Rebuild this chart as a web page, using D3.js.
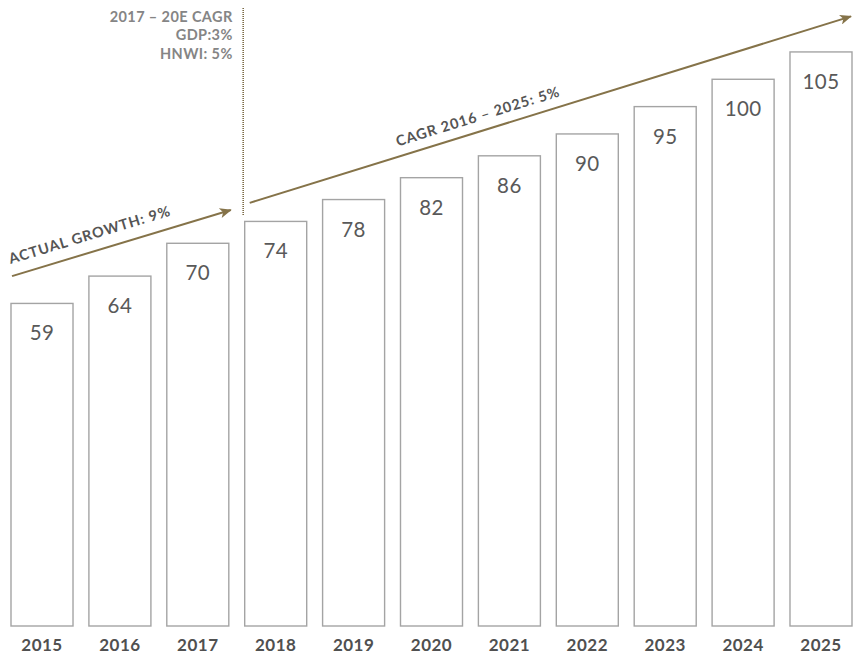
<!DOCTYPE html>
<html>
<head>
<meta charset="utf-8">
<script src="https://cdn.jsdelivr.net/npm/d3@7/dist/d3.min.js"></script>
<style>
  html, body { margin: 0; padding: 0; background: #fff; }
  svg { display: block; }
  text { font-family: Lato, "Open Sans", sans-serif; }
</style>
</head>
<body>
<svg id="chart" width="853" height="657"></svg>
<script>
// Yearly values (forecast from 2018 onward)
const years  = ["2015", "2016", "2017", "2018", "2019", "2020", "2021", "2022", "2023", "2024", "2025"];
const values = [59, 64, 70, 74, 78, 82, 86, 90, 95, 100, 105];

// Growth arrows: [start year, end year], [start value, end value] and their labels
const arrowYears  = [["2015", "2017"], ["2018", "2025"]];
const arrowValues = [[64.0, 76.1], [77.4, 111.5]];
const arrowLabels = ["ACTUAL GROWTH: 9%", "CAGR 2016 – 2025: 5%"];

// Note next to the actual/forecast divider
const noteLines = ["2017 – 20E CAGR", "GDP:3%", "HNWI: 5%"];

const svg = d3.select("#chart");
const gold = "#857349";

const x = d3.scaleBand().domain(years).range([11, 852]).paddingInner(0.204).paddingOuter(0);
const y = d3.scaleLinear().domain([0, 114.5]).range([626, 0]);

// Bars
svg.append("g").selectAll("rect")
  .data(values)
  .join("rect")
  .attr("x", (d, i) => x(years[i]))
  .attr("y", d => y(d))
  .attr("width", x.bandwidth())
  .attr("height", d => y(0) - y(d))
  .attr("fill", "#fff")
  .attr("stroke", "#a4a4a4")
  .attr("stroke-width", 1.4);

// Value labels inside the top of each bar
svg.append("g").selectAll("text")
  .data(values)
  .join("text")
  .attr("x", (d, i) => x(years[i]) + x.bandwidth() / 2)
  .attr("y", d => y(d) + 37)
  .attr("text-anchor", "middle")
  .attr("font-size", 20.5)
  .attr("letter-spacing", 0.4)
  .attr("fill", "#595959")
  .text(d => d);

// Year axis
const xAxis = svg.append("g")
  .attr("transform", `translate(0,${y(0)})`)
  .call(d3.axisBottom(x).tickSize(0).tickPadding(12));
xAxis.select(".domain").remove();
xAxis.selectAll("text")
  .attr("font-size", 17)
  .attr("font-weight", "bold")
  .attr("letter-spacing", 0.5)
  .attr("fill", "#505050")
  .attr("dy", "0.75em")
  .style("font-family", "Lato, 'Open Sans', sans-serif");

// Arrowhead marker
svg.append("defs").append("marker")
  .attr("id", "head")
  .attr("viewBox", "0 0 12 10")
  .attr("refX", 11).attr("refY", 5)
  .attr("markerWidth", 13).attr("markerHeight", 10)
  .attr("markerUnits", "userSpaceOnUse")
  .attr("orient", "auto")
  .append("path")
  .attr("d", "M0,0 L12,5 L0,10 L3,5 Z")
  .attr("fill", gold);

// Arrow endpoints relative to the bands
const arrowX = [
  [s => x(s) + 1, e => x(e) + x.bandwidth() + 2],
  [s => x(s) + 5, e => x(e) + x.bandwidth() - 1]
];
// Label offsets along each arrow and above it
const labelAlong = [2, 158];
const labelAbove = [-12, -10];

arrowYears.forEach((yy, i) => {
  const x1 = arrowX[i][0](yy[0]), x2 = arrowX[i][1](yy[1]);
  const y1 = y(arrowValues[i][0]), y2 = y(arrowValues[i][1]);
  svg.append("line")
    .attr("x1", x1).attr("y1", y1)
    .attr("x2", x2).attr("y2", y2)
    .attr("stroke", gold)
    .attr("stroke-width", 2)
    .attr("marker-end", "url(#head)");

  const rad = Math.atan2(y2 - y1, x2 - x1);
  const tx = x1 + Math.cos(rad) * labelAlong[i];
  const ty = y1 + Math.sin(rad) * labelAlong[i];
  svg.append("text")
    .attr("transform", `translate(${tx},${ty}) rotate(${rad * 180 / Math.PI})`)
    .attr("y", labelAbove[i])
    .attr("font-size", 14.5)
    .attr("font-weight", "bold")
    .attr("letter-spacing", 0.9)
    .attr("fill", "#555")
    .text(arrowLabels[i]);
});

// Divider between actual and forecast years
const divX = x("2018") - 1.5;
svg.append("line")
  .attr("x1", divX).attr("x2", divX)
  .attr("y1", 8).attr("y2", 215)
  .attr("stroke", "#7a6a45")
  .attr("stroke-width", 1.6)
  .attr("stroke-dasharray", "1,1");

svg.append("g").selectAll("text")
  .data(noteLines)
  .join("text")
  .attr("x", divX - 10.5)
  .attr("y", (d, i) => 21.5 + i * 18.5)
  .attr("text-anchor", "end")
  .attr("font-size", 14.5)
  .attr("font-weight", "bold")
  .attr("letter-spacing", 0.4)
  .attr("fill", "#858585")
  .text(d => d);
</script>
</body>
</html>
